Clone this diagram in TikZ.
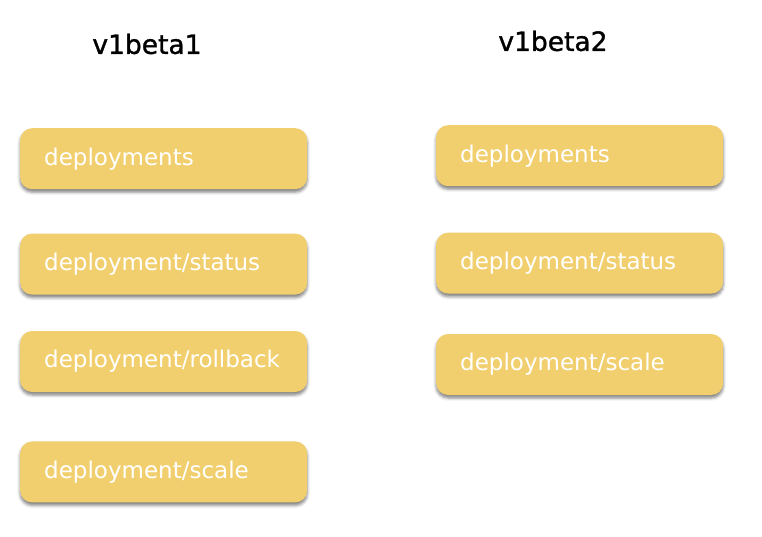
\documentclass[tikz,border=0pt]{standalone}
\usepackage{fontspec}
\setmainfont{DejaVu Sans}
\usepackage{tikz}
\usetikzlibrary{positioning,shadows.blur}
\definecolor{apiyellow}{HTML}{F2CF6E}

\begin{document}
\begin{tikzpicture}[x=1pt, y=-1pt,
    every node/.style={font=\fontsize{23}{26}\selectfont},
    version/.style={font=\fontsize{26.5}{30}\selectfont\addfontfeature{FakeBold=1.2}, text=black},
    resource/.style={fill=apiyellow, rounded corners=12pt, text=white, anchor=north west,
        minimum width=287pt, minimum height=61pt, text width=239pt, inner xsep=24pt, align=left,
        blur shadow={shadow xshift=0pt, shadow yshift=-3pt, shadow blur radius=3pt, shadow opacity=50}},
]
\useasboundingbox (0,0) rectangle (762,536);

\node[version] (beta1) at (147,44) {v1beta1};
\node[version] (beta2) at (553,41) {v1beta2};

% v1beta1
\node[resource] (dep1) at (20,128) {deployments};
\node[resource, below=44pt of dep1.south west, anchor=north west] (status1) {deployment/status};
\node[resource, below=36pt of status1.south west, anchor=north west] (rollback1) {deployment/rollback};
\node[resource, below=49pt of rollback1.south west, anchor=north west] (scale1) {deployment/scale};

% v1beta2
\node[resource] (dep2) at (436,125) {deployments};
\node[resource, below=46pt of dep2.south west, anchor=north west] (status2) {deployment/status};
\node[resource, below=40pt of status2.south west, anchor=north west] (scale2) {deployment/scale};
\end{tikzpicture}
\end{document}
